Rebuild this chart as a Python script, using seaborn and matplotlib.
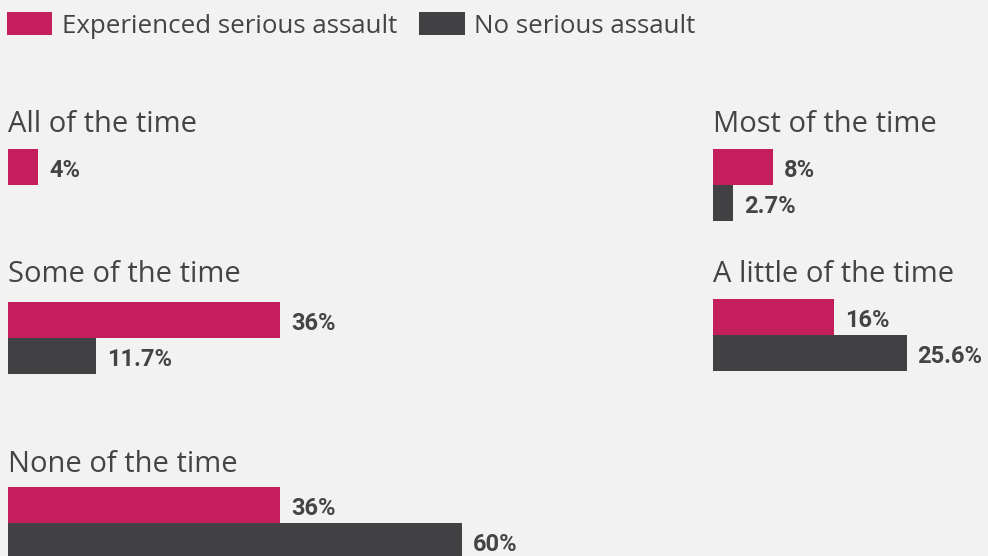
import numpy as np
import pandas as pd
import matplotlib
matplotlib.use("Agg")
import matplotlib.pyplot as plt
import seaborn as sns
from matplotlib.patches import Patch

# ---- data ----
categories = ["All of the time", "Most of the time", "Some of the time",
              "A little of the time", "None of the time"]
series = ["Experienced serious assault", "No serious assault"]
assault_vals = [4, 8, 36, 16, 36]
no_assault_vals = [None, 2.7, 11.7, 25.6, 60]
assault_labels = ["4%", "8%", "36%", "16%", "36%"]
no_assault_labels = [None, "2.7%", "11.7%", "25.6%", "60%"]

colors = {"Experienced serious assault": "#c41e5c", "No serious assault": "#414143"}
BG = "#f2f2f2"
TXT = "#444446"

sns.set_theme(style="white")
plt.rcParams["font.family"] = ["Open Sans", "DejaVu Sans"]

W, H = 988, 556
fig = plt.figure(figsize=(W / 100, H / 100), dpi=100, facecolor=BG)

# layout in pixels: (left x, bar top y, title baseline y)
layout = {
    "All of the time": (8, 149, 132),
    "Most of the time": (713, 149, 132),
    "Some of the time": (8, 302, 282),
    "A little of the time": (713, 299, 282),
    "None of the time": (8, 487, 472),
}
PX_PER_PCT = 7.56
BAR_H = 36
AX_W = 600

for i, cat in enumerate(categories):
    x0, top, base = layout[cat]
    rows = [(series[0], assault_vals[i], assault_labels[i])]
    if no_assault_vals[i] is not None:
        rows.append((series[1], no_assault_vals[i], no_assault_labels[i]))
    df = pd.DataFrame(rows, columns=["series", "value", "label"])

    ax = fig.add_axes([x0 / W, 1 - (top + 2 * BAR_H) / H, AX_W / W, 2 * BAR_H / H])
    ax.set_facecolor("none")
    sns.barplot(data=df, x="value", y="series", hue="series", order=series,
                hue_order=series, palette=colors, orient="h", width=1.0,
                dodge=False, legend=False, ax=ax, saturation=1, linewidth=0)
    ax.set_xlim(0, AX_W / PX_PER_PCT)
    ax.set_ylim(1.5, -0.5)
    ax.axis("off")
    for cont in ax.containers:
        lab = []
        for bar in cont:
            w = bar.get_width()
            match = df.loc[np.isclose(df["value"], w), "label"] if not np.isnan(w) else []
            lab.append(match.iloc[0] if len(match) else "")
        anns = ax.bar_label(cont, labels=lab, padding=7.8, fontsize=17,
                            fontweight="bold", color=TXT,
                            family=["Roboto", "DejaVu Sans"])
        for a in anns:
            a.xyann = (a.xyann[0], -2.2)
            a.set_annotation_clip(False)
    fig.text(x0 / W, 1 - base / H, cat, fontsize=21, color=TXT,
             va="baseline", ha="left")

handles = [Patch(facecolor=colors[s], edgecolor="none") for s in series]
fig.legend(handles, series, loc="upper left", bbox_to_anchor=(7 / W, 1 - 12.5 / H),
           ncol=2, frameon=False, fontsize=18.6, labelcolor=TXT,
           handlelength=1.75, handleheight=0.97, handletextpad=0.38,
           columnspacing=0.85, borderpad=0, borderaxespad=0)

fig.savefig("out.png", dpi=100, facecolor=BG)
